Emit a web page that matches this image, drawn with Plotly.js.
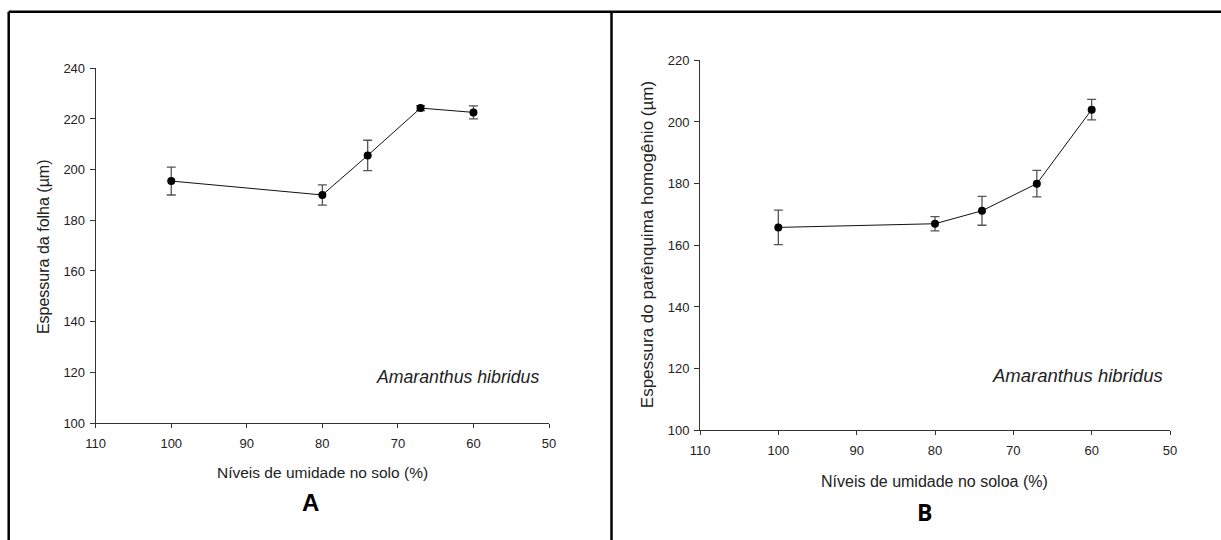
<!DOCTYPE html>
<html>
<head>
<meta charset="utf-8">
<script src="https://cdn.plot.ly/plotly-3.0.1.min.js"></script>
<style>html,body{margin:0;padding:0;background:#fff;}#chart{width:1221px;height:540px;}</style>
</head>
<body>
<div id="chart"></div>
<script>
// Data
const moisture = [100, 80, 74, 67, 60];            // soil moisture levels (%)
const leafThickness = [195.5, 190.0, 205.6, 224.3, 222.6];   // panel A (µm)
const leafThicknessErr = [5.5, 4.0, 6.0, 1.0, 2.6];
const parenchymaThickness = [165.8, 167.0, 171.2, 180.0, 204.0]; // panel B (µm)
const parenchymaThicknessErr = [5.6, 2.3, 4.7, 4.3, 3.3];
const xTicks = [110, 100, 90, 80, 70, 60, 50];
const yTicksA = [100, 120, 140, 160, 180, 200, 220, 240];
const yTicksB = [100, 120, 140, 160, 180, 200, 220];

const W = 1221, H = 540;
const px = v => v / W;
const py = v => 1 - v / H;

const font = 'Arial, "Liberation Sans", sans-serif';
const txt = '#222';

function series(x, y, err, xa, ya) {
  return {
    x: x, y: y, xaxis: xa, yaxis: ya,
    type: 'scatter', mode: 'lines+markers',
    line: {color: '#111', width: 1},
    marker: {color: '#000', size: 8},
    error_y: {type: 'data', array: err, visible: true, color: '#555', thickness: 1.3, width: 4.5},
    showlegend: false, hoverinfo: 'x+y'
  };
}

const traces = [
  series(moisture, leafThickness, leafThicknessErr, 'x', 'y'),
  series(moisture, parenchymaThickness, parenchymaThicknessErr, 'x2', 'y2')
];

function xax(domain) {
  return {
    domain: domain, range: [110, 50], tickvals: xTicks, ticktext: xTicks.map(String),
    showline: true, linecolor: '#333', linewidth: 1, ticks: 'outside', ticklen: 4, tickcolor: '#333',
    showgrid: false, zeroline: false, tickfont: {family: font, size: 13, color: txt},
    ticklabelstandoff: 4, fixedrange: true
  };
}
function yax(domain, range, ticks, anchor) {
  return {
    domain: domain, range: range, tickvals: ticks, ticktext: ticks.map(String), anchor: anchor,
    showline: true, linecolor: '#333', linewidth: 1, ticks: 'outside', ticklen: 5, tickcolor: '#333',
    showgrid: false, zeroline: false, tickfont: {family: font, size: 13, color: txt},
    ticklabelstandoff: 2, fixedrange: true
  };
}

const layout = {
  width: W, height: H, margin: {l: 0, r: 0, t: 0, b: 0},
  paper_bgcolor: '#fff', plot_bgcolor: 'rgba(0,0,0,0)',
  xaxis: Object.assign(xax([px(95.7), px(549)]), {anchor: 'y'}),
  yaxis: yax([py(423), py(68.3)], [100, 240], yTicksA, 'x'),
  xaxis2: Object.assign(xax([px(700), px(1170)]), {anchor: 'y2'}),
  yaxis2: yax([py(430.3), py(60.3)], [100, 220], yTicksB, 'x2'),
  shapes: [
    {type: 'line', xref: 'paper', yref: 'paper', x0: px(8.7), x1: 1, y0: py(11.7), y1: py(11.7), line: {color: '#000', width: 2.5}},
    {type: 'line', xref: 'paper', yref: 'paper', x0: px(8.7), x1: px(8.7), y0: 0, y1: py(11.7), line: {color: '#000', width: 2.5}},
    {type: 'line', xref: 'paper', yref: 'paper', x0: px(611.5), x1: px(611.5), y0: 0, y1: py(11.7), line: {color: '#000', width: 2.5}}
  ],
  annotations: [
    {xref: 'paper', yref: 'paper', x: px(322), y: py(472), text: 'Níveis de umidade no solo (%)', showarrow: false,
     xanchor: 'center', yanchor: 'middle', font: {family: font, size: 15.5, color: txt}},
    {xref: 'paper', yref: 'paper', x: px(43.6), y: py(246.5), text: 'Espessura da folha (µm)', showarrow: false, textangle: -90,
     xanchor: 'center', yanchor: 'middle', font: {family: font, size: 16, color: txt}},
    {xref: 'paper', yref: 'paper', x: px(457), y: py(376.7), text: '<i>Amaranthus hibridus</i>', showarrow: false,
     xanchor: 'center', yanchor: 'middle', font: {family: font, size: 17.7, color: txt}},
    {xref: 'paper', yref: 'paper', x: px(310.8), y: py(502), text: '<b>A</b>', showarrow: false,
     xanchor: 'center', yanchor: 'middle', font: {family: font, size: 24, color: '#000'}},

    {xref: 'paper', yref: 'paper', x: px(935), y: py(481), text: 'Níveis de umidade no soloa (%)', showarrow: false,
     xanchor: 'center', yanchor: 'middle', font: {family: font, size: 16, color: txt}},
    {xref: 'paper', yref: 'paper', x: px(647.7), y: py(244.5), text: 'Espessura do parênquima homogênio (µm)', showarrow: false, textangle: -90,
     xanchor: 'center', yanchor: 'middle', font: {family: font, size: 17, color: txt}},
    {xref: 'paper', yref: 'paper', x: px(1077.9), y: py(375.3), text: '<i>Amaranthus hibridus</i>', showarrow: false,
     xanchor: 'center', yanchor: 'middle', font: {family: font, size: 18.5, color: txt}},
    {xref: 'paper', yref: 'paper', x: px(924), y: py(512), text: '<b>B</b>', showarrow: false,
     xanchor: 'center', yanchor: 'middle', font: {family: '"Open Sans", "Noto Sans", sans-serif', size: 23, color: '#000'}}
  ]
};

Plotly.newPlot('chart', traces, layout, {staticPlot: true, displayModeBar: false});
</script>
</body>
</html>
